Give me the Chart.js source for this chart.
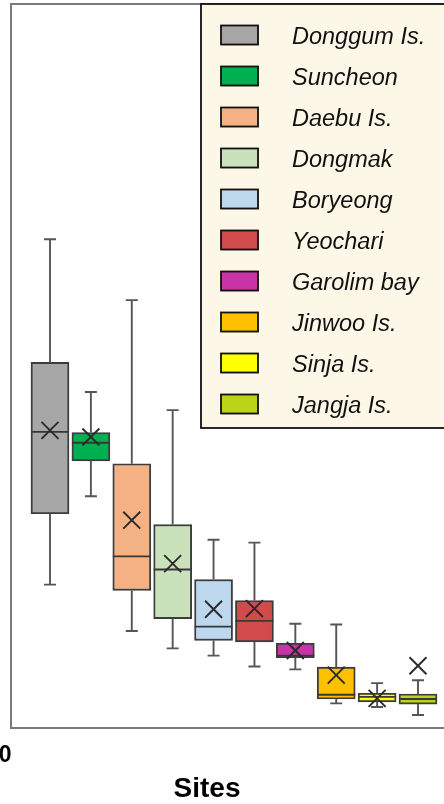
<!DOCTYPE html>
<html>
<head>
<meta charset="utf-8">
<script src="https://cdn.jsdelivr.net/npm/chart.js@4/dist/chart.umd.min.js"></script>
<style>
  html, body { margin: 0; padding: 0; background: #ffffff; overflow: hidden; }
  #wrap { width: 444px; height: 804px; position: relative; }
</style>
</head>
<body>
<div id="wrap"><canvas id="c" width="444" height="804"></canvas></div>
<script>
// Sampling sites and box-plot statistics per site
const sites = ['Donggum Is.', 'Suncheon', 'Daebu Is.', 'Dongmak', 'Boryeong',
               'Yeochari', 'Garolim bay', 'Jinwoo Is.', 'Sinja Is.', 'Jangja Is.'];
const whiskerLow  = [19.8, 32.0, 13.4, 11.0, 10.0,  8.5,  8.1, 3.4, 2.9, 1.8];
const q1          = [29.6, 36.9, 19.0, 15.1, 12.1, 11.9,  9.7, 4.0, 3.6, 3.3];
const median      = [40.9, 39.4, 23.7, 21.9, 14.0, 14.8, 10.0, 4.6, 4.3, 4.0];
const q3          = [50.5, 40.8, 36.5, 28.1, 20.5, 17.6, 11.7, 8.4, 4.8, 4.7];
const whiskerHigh = [67.5, 46.4, 59.1, 43.9, 26.0, 25.6, 14.4, 14.3, 6.2, 6.6];
const means       = [41.1, 40.2, 28.7, 22.7, 16.4, 16.5, 10.7, 7.3, 4.1, 8.6];
const yTickLabel = '0';
const xTitle = 'Sites';

const siteColors = ['#a6a6a6', '#00b050', '#f4b183', '#c9e2bc', '#bdd7ee',
                    '#d24b4b', '#c833a8', '#ffc000', '#ffff00', '#bcd418'];

const boxData = sites.map((s, i) => ({ x: i, y: [q1[i], q3[i]] }));
const meanData = sites.map((s, i) => ({ x: i, y: means[i] }));

// Whiskers, caps and median lines drawn right after the boxes
const whiskerPlugin = {
  id: 'whiskers',
  afterDatasetDraw(chart, args) {
    if (args.index !== 0) return;
    const { ctx, scales: { x, y } } = chart;
    const meta = chart.getDatasetMeta(0);
    ctx.save();
    ctx.lineCap = 'butt';
    sites.forEach((s, i) => {
      const cx = x.getPixelForValue(i);
      const bar = meta.data[i];
      const half = bar.width / 2;
      const yLo = y.getPixelForValue(whiskerLow[i]);
      const yQ1 = y.getPixelForValue(q1[i]);
      const yQ3 = y.getPixelForValue(q3[i]);
      const yHi = y.getPixelForValue(whiskerHigh[i]);
      const yMed = y.getPixelForValue(median[i]);
      ctx.strokeStyle = '#555555';
      ctx.lineWidth = 1.9;
      ctx.beginPath();
      ctx.moveTo(cx, yQ3); ctx.lineTo(cx, yHi);
      ctx.moveTo(cx - 6, yHi); ctx.lineTo(cx + 6, yHi);
      ctx.moveTo(cx, yQ1); ctx.lineTo(cx, yLo);
      ctx.moveTo(cx - 6, yLo); ctx.lineTo(cx + 6, yLo);
      ctx.stroke();
      ctx.strokeStyle = '#383838';
      ctx.lineWidth = 1.9;
      ctx.beginPath();
      ctx.moveTo(cx - half, yMed); ctx.lineTo(cx + half, yMed);
      ctx.stroke();
    });
    ctx.restore();
  }
};

// Plot frame, legend panel and texts
const decorPlugin = {
  id: 'decor',
  beforeDatasetsDraw(chart) {
    const { ctx, chartArea: a } = chart;
    ctx.save();
    ctx.strokeStyle = '#7a7a7a';
    ctx.lineWidth = 2;
    ctx.beginPath();
    ctx.moveTo(a.right + 2, a.top);
    ctx.lineTo(a.left, a.top);
    ctx.lineTo(a.left, a.bottom);
    ctx.lineTo(a.right + 2, a.bottom);
    ctx.stroke();
    ctx.restore();
  },
  afterDraw(chart) {
    const { ctx } = chart;
    ctx.save();
    // legend panel
    const lx = 201, ly = 4, lw = 260, lh = 424;
    ctx.fillStyle = '#fdf7e7';
    ctx.fillRect(lx, ly, lw, lh);
    ctx.strokeStyle = '#111111';
    ctx.lineWidth = 1.8;
    ctx.strokeRect(lx, ly, lw, lh);
    ctx.font = 'italic 23.5px "Liberation Sans", Arial, sans-serif';
    ctx.textBaseline = 'middle';
    ctx.textAlign = 'left';
    sites.forEach((s, i) => {
      const cy = 35 + 41 * i;
      ctx.fillStyle = 'rgba(0,0,0,0.18)';
      ctx.fillRect(222, cy - 8.5, 37, 19);
      ctx.fillStyle = siteColors[i];
      ctx.fillRect(221, cy - 9.5, 37, 19);
      ctx.strokeStyle = '#111111';
      ctx.lineWidth = 1.8;
      ctx.strokeRect(221, cy - 9.5, 37, 19);
      ctx.fillStyle = '#111111';
      ctx.fillText(s, 292, cy + 2);
    });
    // y tick label and x title
    ctx.fillStyle = '#000000';
    ctx.textBaseline = 'alphabetic';
    ctx.font = 'bold 23px "Liberation Sans", Arial, sans-serif';
    ctx.textAlign = 'right';
    ctx.fillText(yTickLabel, 11.5, 761.5);
    ctx.font = 'bold 28px "Liberation Sans", Arial, sans-serif';
    ctx.textAlign = 'center';
    ctx.fillText(xTitle, 207, 797);
    ctx.restore();
  }
};

new Chart(document.getElementById('c'), {
  type: 'bar',
  data: {
    labels: sites,
    datasets: [
      {
        type: 'bar',
        data: boxData,
        backgroundColor: siteColors,
        borderColor: '#3c3c3c',
        borderWidth: 1.9,
        borderSkipped: false,
        barThickness: 38,
        order: 1
      },
      {
        type: 'scatter',
        data: meanData,
        pointStyle: 'crossRot',
        pointRadius: 12,
        borderColor: '#2a2a2a',
        borderWidth: 1.9,
        backgroundColor: 'transparent',
        order: 0
      }
    ]
  },
  options: {
    responsive: false,
    animation: false,
    devicePixelRatio: 1,
    layout: { autoPadding: false, padding: { left: 11, top: 4, right: 0, bottom: 76 } },
    plugins: { legend: { display: false }, tooltip: { enabled: false } },
    scales: {
      x: { type: 'linear', min: -0.954, max: 9.636, offset: false, display: false },
      y: { type: 'linear', min: 0, max: 100, display: false }
    }
  },
  plugins: [whiskerPlugin, decorPlugin]
});
</script>
</body>
</html>
